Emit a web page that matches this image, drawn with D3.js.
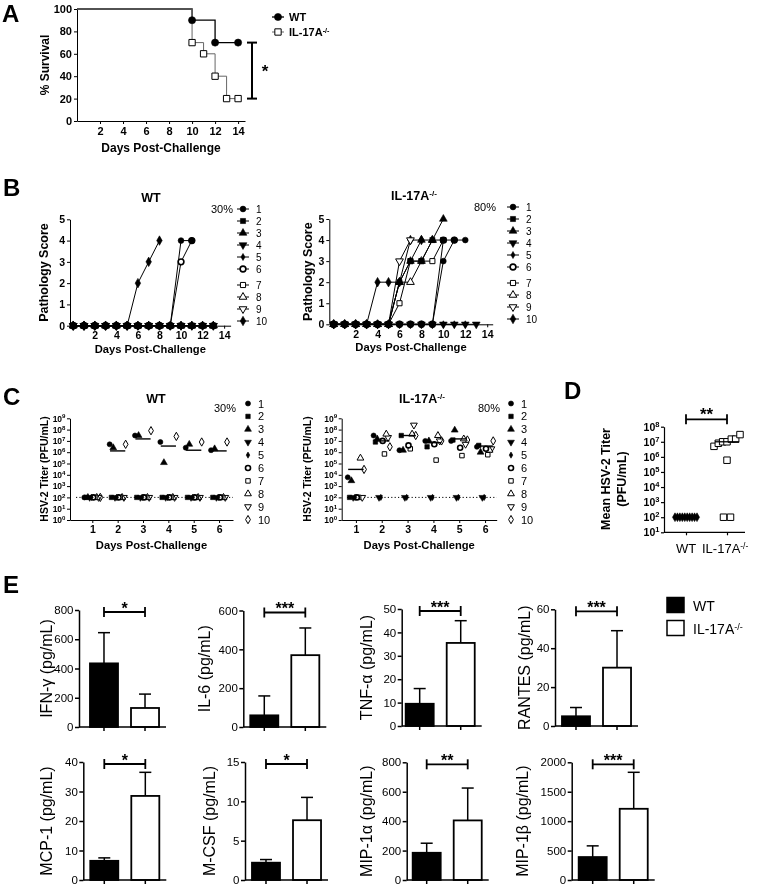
<!DOCTYPE html>
<html><head><meta charset="utf-8">
<script src="https://cdn.jsdelivr.net/npm/d3@7/dist/d3.min.js"></script>
<style>html,body{margin:0;padding:0;background:#fff;} svg{filter:grayscale(100%);}</style>
</head><body>
<script>
// ================= DATA =================
// A: survival (Kaplan-Meier steps)
const survivalDaysWT = [0, 10, 12, 14];
const survivalWT     = [100, 90, 70, 70];
const survivalDaysKO = [0, 10, 11, 12, 13, 14];
const survivalKO     = [100, 70, 60, 40, 20, 20];
const survivalXTicks = [2, 4, 6, 8, 10, 12, 14];
const survivalYTicks = [0, 20, 40, 60, 80, 100];
const groupNames = ["WT", "IL-17A"];

// B: pathology score per mouse (array index = day post-challenge)
const pathologyWT = [
  [0,0,0,0,0,0,0,0,0,0,4,4],
  [0,0,0,0,0,0,0,0,0,0,0,0,0,0],
  [0,0,0,0,0,0,0,0,0,0,0,0,0,0],
  [0,0,0,0,0,0,0,0,0,0,0,0,0,0],
  [0,0,0,0,0,0,0,0,0,0,0,0,0,0],
  [0,0,0,0,0,0,0,0,0,0,3,4],
  [0,0,0,0,0,0,0,0,0,0,0,0,0,0],
  [0,0,0,0,0,0,0,0,0,0,0,0,0,0],
  [0,0,0,0,0,0,0,0,0,0,0,0,0,0],
  [0,0,0,0,0,0,2,3,4]
];
const pathologyKO = [
  [0,0,0,0,0,0,0,0,0,0,3,4,4],
  [0,0,0,0,0,0,2,3,3,4,4],
  [0,0,0,0,0,0,2,3,4,4,5],
  [0,0,0,0,0,0,0,0,0,0,0,0,0,0],
  [0,0,0,0,0,0,0,0,0,0,0,0,0],
  [0,0,0,0,0,0,0,0,0,0,4,4],
  [0,0,0,0,0,0,1,3,3,3,4],
  [0,0,0,0,0,0,2,2,3,4],
  [0,0,0,0,0,0,3,4],
  [0,0,0,0,2,2,2,4,4]
];
const pathologyXTicks = [2, 4, 6, 8, 10, 12, 14];
const pathologyYTicks = [0, 1, 2, 3, 4, 5];
const mouseLabels = ["1","2","3","4","5","6","7","8","9","10"];
const pctWT = "30%";
const pctKO = "80%";

// C: HSV-2 titer per mouse, days 1..6
const titerDays = [1, 2, 3, 4, 5, 6];
const titerWT = [
  [1e2, 5e6, 3e7, 8e6, 2.5e6, 1.5e6],
  [1e2, 1e2, 1e2, 1e2, 1e2, 1e2],
  [1e2, 2.5e6, 3e7, 1.2e5, 5e6, 2e6],
  [1e2, 1e2, 1e2, 1e2, 1e2, 1e2],
  [1e2, 1e2, 1e2, 1e2, 1e2, 1e2],
  [1e2, 1e2, 1e2, 1e2, 1e2, 1e2],
  [1e2, 1e2, 1e2, 1e2, 1e2, 1e2],
  [1e2, 1e2, 1e2, 1e2, 1e2, 1e2],
  [1e2, 1e2, 1e2, 1e2, 1e2, 1e2],
  [1e2, 5e6, 8e7, 2.5e7, 8e6, 8e6]
];
const titerKO = [
  [6e3, 3e7, 1.5e6, 1e7, 1e7, 3e6],
  [1e2, 8e6, 3e7, 3e6, 1.2e7, 4e6],
  [3e3, 1.5e7, 1.5e6, 1e7, 9e7, 1e6],
  [1e2, 1e2, 1e2, 1e2, 1e2, 1e2],
  [1e2, 1e2, 1e2, 1e2, 1e2, 1e2],
  [1e2, 1e7, 4e6, 5e6, 2.5e6, 2e6],
  [1e2, 7e5, 2e6, 2e5, 5e5, 6e5],
  [3e5, 4e7, 4e7, 3e7, 1.5e7, 1.5e6],
  [1e2, 2e7, 2.5e8, 1e7, 5e6, 2e6],
  [3e4, 3e6, 3e7, 1e7, 1.2e7, 1e7]
];
const titerMeanWT = [null, 1.3e6, 1.5e7, 3.5e6, 1.5e6, 1.3e6];
const titerMeanKO = [3e4, 1e7, 3e7, 7e6, 1.5e7, 3.5e6];
const titerLimit = 1e2;
const titerTicks = [1e0,1e1,1e2,1e3,1e4,1e5,1e6,1e7,1e8,1e9];

// D: mean titer per mouse
const meanTiterWT = [1e2,1e2,1e2,1e2,1e2,1e2,1e2,1e2,1e2,1e2];
const meanTiterKO = [1e2, 1e2, 6e5, 5e6, 8e6, 1e7, 1e7, 1.5e7, 1.5e7, 3e7];
const meanTiterCenterWT = 1e2;
const meanTiterCenterKO = 1e7;
const meanTiterTicks = [1e1,1e2,1e3,1e4,1e5,1e6,1e7,1e8];

// E: cytokines (mean, SEM)
const cytokines  = ["IFN-γ","IL-6","TNF-α","RANTES","MCP-1","M-CSF","MIP-1α","MIP-1β"];
const cytoWT     = [435, 60, 9.5, 5, 6.5, 2.2, 185, 390];
const cytoWTerr  = [210, 100, 6.5, 4.5, 1, 0.4, 65, 190];
const cytoKO     = [130, 370, 35.5, 30, 28.5, 7.6, 405, 1210];
const cytoKOerr  = [95, 140, 9.5, 19, 8, 2.9, 220, 620];
const cytoMax    = [800, 600, 50, 60, 40, 15, 800, 2000];
const cytoStep   = [200, 200, 10, 20, 10, 5, 200, 500];
const cytoStars  = ["*","***","***","***","*","*","**","***"];

// ================= DRAWING =================
const FONT = '"Liberation Sans", Arial, Helvetica, sans-serif';
const fmtInt = d3.format("d");
const svg = d3.select("body").append("svg").attr("width",760).attr("height",889)
  .style("font-family",FONT).style("background","#fff");

function txt(parent, x, y, s, o={}) {
  const t = parent.append("text").attr("x",x).attr("y",y)
    .attr("font-size",o.size||11).attr("font-weight",o.weight||"normal")
    .attr("text-anchor",o.anchor||"start").attr("fill","#000").attr("font-family",FONT);
  if (s !== null) t.text(s);
  return t;
}
function rtxt(parent, x, y, s, o={}) {
  return parent.append("text").attr("transform",`translate(${x},${y}) rotate(-90)`)
    .attr("dy","0.35em").attr("font-size",o.size||11).attr("font-weight",o.weight||"normal")
    .attr("text-anchor","middle").attr("fill","#000").attr("font-family",FONT).text(s);
}
function koText(t, name) {
  t.append("tspan").text(name);
  t.append("tspan").attr("dy","-0.45em").attr("font-size","0.65em").text("-/-");
}
function styleAxis(g, fs, bold, sw) {
  g.attr("font-family",FONT).attr("font-size",fs);
  g.selectAll("path.domain").attr("stroke","#000").attr("stroke-width",sw);
  g.selectAll(".tick line").attr("stroke","#000").attr("stroke-width",sw);
  g.selectAll(".tick text").attr("fill","#000").attr("font-weight",bold?"bold":"normal");
}
function powLabels(g) {
  g.selectAll(".tick text").each(function(d){
    const t = d3.select(this); t.text(null);
    t.append("tspan").text("10");
    t.append("tspan").attr("dy","-0.5em").attr("font-size","0.72em").text(Math.round(Math.log10(d)));
  });
}
const markerDefs = [
  {type:d3.symbolCircle, filled:true},
  {type:d3.symbolSquare, filled:true},
  {type:d3.symbolTriangle, filled:true},
  {type:d3.symbolTriangle, filled:true, flip:true},
  {type:d3.symbolDiamond, filled:true, scale:0.55},
  {type:d3.symbolCircle, filled:false, thick:true},
  {type:d3.symbolSquare, filled:false},
  {type:d3.symbolTriangle, filled:false},
  {type:d3.symbolTriangle, filled:false, flip:true},
  {type:d3.symbolDiamond, filled:null}
];
function marker(g, idx, x, y, size, tenFilled) {
  const d = markerDefs[idx];
  const filled = d.filled === null ? tenFilled : d.filled;
  g.append("path").attr("d", d3.symbol(d.type, size*(d.scale||1))())
    .attr("transform",`translate(${x},${y})${d.flip?" rotate(180)":""}`)
    .attr("fill", filled ? "#000" : "#fff").attr("stroke","#000")
    .attr("stroke-width", filled ? 0.6 : (d.thick ? 1.6 : 1));
}
function panelLetter(x, y, s) { txt(svg, x, y, s, {size:24, weight:"bold"}); }

// ---------- Panel A ----------
(function(){
  const g = svg.append("g");
  const x = d3.scaleLinear([0,14.6],[77,245]);
  const y = d3.scaleLinear([0,100],[121,9]);
  const gx = g.append("g").attr("transform","translate(0,121)")
    .call(d3.axisBottom(x).tickValues(survivalXTicks).tickFormat(fmtInt).tickSize(3).tickPadding(3).tickSizeOuter(0));
  styleAxis(gx, 11, true, 1);
  const gy = g.append("g").attr("transform","translate(77,0)")
    .call(d3.axisLeft(y).tickValues(survivalYTicks).tickFormat(fmtInt).tickSize(3).tickPadding(2).tickSizeOuter(0));
  styleAxis(gy, 11, true, 1);
  const line = d3.line().curve(d3.curveStepAfter).x(d=>x(d[0])).y(d=>y(d[1]));
  const wt = survivalDaysWT.map((d,i)=>[d, survivalWT[i]]);
  const ko = survivalDaysKO.map((d,i)=>[d, survivalKO[i]]);
  g.append("path").datum(wt).attr("d",line).attr("fill","none").attr("stroke","#000").attr("stroke-width",1.3);
  g.append("path").datum(ko).attr("d",line).attr("fill","none").attr("stroke","#666").attr("stroke-width",1);
  wt.slice(1).forEach(p=>marker(g,0,x(p[0]),y(p[1]),40));
  ko.slice(1).forEach(p=>marker(g,6,x(p[0]),y(p[1]),40));
  g.append("line").attr("x1",252).attr("x2",252).attr("y1",y(70)).attr("y2",y(20)).attr("stroke","#000").attr("stroke-width",2);
  [70,20].forEach(v=>g.append("line").attr("x1",247).attr("x2",257).attr("y1",y(v)).attr("y2",y(v)).attr("stroke","#000").attr("stroke-width",2));
  txt(g, 265, 77, "*", {size:17, weight:"bold", anchor:"middle"});
  rtxt(g, 45, 65, "% Survival", {size:12, weight:"bold"});
  txt(g, 161, 152, "Days Post-Challenge", {size:12, weight:"bold", anchor:"middle"});
  g.append("line").attr("x1",272).attr("x2",284).attr("y1",17).attr("y2",17).attr("stroke","#000").attr("stroke-width",1.3);
  marker(g,0,278,17,40);
  txt(g, 289, 21, groupNames[0], {size:11, weight:"bold"});
  g.append("line").attr("x1",272).attr("x2",284).attr("y1",32).attr("y2",32).attr("stroke","#666").attr("stroke-width",1);
  marker(g,6,278,32,40);
  koText(txt(g, 289, 36, null, {size:11, weight:"bold"}), groupNames[1]);
  panelLetter(2, 22, "A");
})();

// ---------- Panel B ----------
function pathologyPanel(data, o) {
  const g = svg.append("g");
  const x = d3.scaleLinear(o.xd,[o.x0,o.x1]);
  const y = d3.scaleLinear([0,5],[o.y0,o.y1]);
  const gx = g.append("g").attr("transform",`translate(0,${o.y0})`)
    .call(d3.axisBottom(x).tickValues(pathologyXTicks).tickFormat(fmtInt).tickSize(3).tickPadding(3).tickSizeOuter(0));
  styleAxis(gx, 10.5, true, 1);
  const gy = g.append("g").attr("transform",`translate(${o.x0},0)`)
    .call(d3.axisLeft(y).tickValues(pathologyYTicks).tickFormat(fmtInt).tickSize(3).tickPadding(2).tickSizeOuter(0));
  styleAxis(gy, 10.5, true, 1);
  const line = d3.line().x(d=>x(d[0])).y(d=>y(d[1]));
  for (let i=data.length-1;i>=0;i--) {
    const pts = data[i].map((v,d)=>[d,v]);
    g.append("path").datum(pts).attr("d",line).attr("fill","none").attr("stroke","#000").attr("stroke-width",1);
    pts.forEach(p=>marker(g,i,x(p[0]),y(p[1]),26,true));
  }
  rtxt(g, o.ylx, (o.y0+o.y1)/2, "Pathology Score", {size:12.5, weight:"bold"});
  txt(g, (o.x0+o.x1)/2, o.y0+27, "Days Post-Challenge", {size:11.2, weight:"bold", anchor:"middle"});
  const title = txt(g, o.tx, o.ty, null, {size:12.5, weight:"bold", anchor:"middle"});
  if (o.ko) koText(title, groupNames[1]); else title.text(groupNames[0]);
  txt(g, o.px, o.ty+11, o.pct, {size:11});
  mouseLabels.forEach((lab,i)=>{
    const ly = o.ly0 + i*12 + (i>=6 ? 4 : 0);
    g.append("line").attr("x1",o.lx-6).attr("x2",o.lx+6).attr("y1",ly).attr("y2",ly).attr("stroke","#000").attr("stroke-width",1);
    marker(g,i,o.lx,ly,26,true);
    txt(g, o.lx+13, ly+3.5, lab, {size:10});
  });
}
pathologyPanel(pathologyWT, {xd:[-0.3,14.6], x0:70, x1:230.6, y0:325.7, y1:219.3, ylx:44,
  tx:151, ty:202, px:211, pct:pctWT, lx:243, ly0:209, ko:false});
pathologyPanel(pathologyKO, {xd:[-0.4,14.5], x0:329.3, x1:492.7, y0:324.3, y1:219, ylx:307.5,
  tx:414, ty:200, px:474, pct:pctKO, lx:513, ly0:207, ko:true});
panelLetter(3, 196, "B");

// ---------- Panel C ----------
function titerPanel(data, means, o) {
  const g = svg.append("g");
  const x = d3.scaleLinear(o.xd,[o.x0,o.x1]);
  const y = d3.scaleLog([1,1e9],[520,418.3]);
  const gx = g.append("g").attr("transform","translate(0,520)")
    .call(d3.axisBottom(x).tickValues(titerDays).tickFormat(fmtInt).tickSize(3).tickPadding(3).tickSizeOuter(0));
  styleAxis(gx, 10.5, true, 1);
  const gy = g.append("g").attr("transform",`translate(${o.x0},0)`)
    .call(d3.axisLeft(y).tickValues(titerTicks).tickSize(3).tickPadding(1.5).tickSizeOuter(0));
  styleAxis(gy, 8.5, true, 1);
  powLabels(gy);
  g.append("line").attr("x1",o.dx0).attr("x2",o.x1).attr("y1",y(titerLimit)).attr("y2",y(titerLimit))
    .attr("stroke","#000").attr("stroke-width",1).attr("stroke-dasharray","1.2,2.2");
  for (let i=data.length-1;i>=0;i--) {
    data[i].forEach((v,di)=>{
      const dx = titerDays[di] + (i-4.5)*0.07;
      marker(g,i,x(dx),y(v),20,false);
    });
  }
  means.forEach((m,di)=>{
    if (m===null) return;
    g.append("line").attr("x1",x(titerDays[di]-0.3)).attr("x2",x(titerDays[di]+0.3))
      .attr("y1",y(m)).attr("y2",y(m)).attr("stroke","#000").attr("stroke-width",1.4);
  });
  rtxt(g, o.ylx, 469, "HSV-2 Titer (PFU/mL)", {size:10.5, weight:"bold"});
  txt(g, (o.x0+o.x1)/2, 549, "Days Post-Challenge", {size:11.2, weight:"bold", anchor:"middle"});
  const title = txt(g, o.tx, 403, null, {size:12.5, weight:"bold", anchor:"middle"});
  if (o.ko) koText(title, groupNames[1]); else title.text(groupNames[0]);
  txt(g, o.px, 412, o.pct, {size:11});
  mouseLabels.forEach((lab,i)=>{
    const ly = 403.5 + i*12.9;
    marker(g,i,o.lx,ly,20,false);
    txt(g, o.lx+10, ly+4, lab, {size:11});
  });
}
titerPanel(titerWT, titerMeanWT, {xd:[0.12,6.55], x0:70, x1:233, dx0:76, ylx:44, tx:156, px:214, pct:pctWT, lx:248, ko:false});
titerPanel(titerKO, titerMeanKO, {xd:[0.45,6.45], x0:341.7, x1:496.7, dx0:347, ylx:307.5, tx:422, px:478, pct:pctKO, lx:511, ko:true});
panelLetter(3, 405, "C");

// ---------- Panel D ----------
(function(){
  const g = svg.append("g");
  const x = d3.scalePoint(groupNames,[686,727]);
  const y = d3.scaleLog([10,1e8],[532.3,426.7]);
  const gx = g.append("g").attr("transform","translate(0,532.3)")
    .call(d3.axisBottom(x).tickSize(3).tickSizeOuter(0).tickFormat(""));
  gx.select("path.domain").remove();
  styleAxis(gx, 13, false, 1.2);
  g.append("line").attr("x1",664).attr("x2",745).attr("y1",532.3).attr("y2",532.3).attr("stroke","#000").attr("stroke-width",1.2);
  const gy = g.append("g").attr("transform","translate(664,0)")
    .call(d3.axisLeft(y).tickValues(meanTiterTicks).tickSize(3).tickPadding(1.5).tickSizeOuter(0));
  styleAxis(gy, 10.5, true, 1.2);
  powLabels(gy);
  txt(g, 686, 553, groupNames[0], {size:13, anchor:"middle"});
  koText(txt(g, 702, 553, null, {size:13}), groupNames[1]);
  function swarm(vals, cx, idx, size, spread) {
    const groups = d3.group(vals.map((v,i)=>({v,i})), d=>Math.round(Math.log10(d.v)));
    groups.forEach(arr=>{
      const n = arr.length, sp = n>1 ? Math.min(7, spread/(n-1)) : 0;
      arr.forEach((d,k)=>marker(g, idx, cx + (k-(n-1)/2)*sp, y(d.v), size, false));
    });
  }
  swarm(meanTiterWT, x("WT"), 4, 40, 22);
  swarm(meanTiterKO, x("IL-17A"), 6, 42, 26);
  [[meanTiterCenterWT,"WT"],[meanTiterCenterKO,"IL-17A"]].forEach(([m,k])=>
    g.append("line").attr("x1",x(k)-12).attr("x2",x(k)+12).attr("y1",y(m)).attr("y2",y(m)).attr("stroke","#000").attr("stroke-width",1.3));
  const by = 419.3;
  g.append("line").attr("x1",x("WT")).attr("x2",x("IL-17A")).attr("y1",by).attr("y2",by).attr("stroke","#000").attr("stroke-width",1.8);
  [x("WT"),x("IL-17A")].forEach(cx=>g.append("line").attr("x1",cx).attr("x2",cx).attr("y1",by-5).attr("y2",by+5).attr("stroke","#000").attr("stroke-width",1.8));
  txt(g, (x("WT")+x("IL-17A"))/2, by+1, "**", {size:17, weight:"bold", anchor:"middle"});
  rtxt(g, 606, 479, "Mean HSV-2 Titer", {size:12.5, weight:"bold"});
  rtxt(g, 621.7, 479, "(PFU/mL)", {size:12.5, weight:"bold"});
  panelLetter(564, 399, "D");
})();

// ---------- Panel E ----------
const eLayout = [
  {ax:79, top:610, bot:727, lx:46, off:4},
  {ax:243.3, top:610.5, bot:727, lx:204, off:0},
  {ax:401.7, top:609, bot:726, lx:366, off:-3},
  {ax:555, top:609.3, bot:726, lx:524, off:0},
  {ax:83.3, top:762, bot:880, lx:46, off:0},
  {ax:245, top:762, bot:880, lx:209, off:0},
  {ax:406.7, top:762.3, bot:880, lx:366, off:-1},
  {ax:571.7, top:762.3, bot:880, lx:522.5, off:0}
];
cytokines.forEach((name,i)=>{
  const L = eLayout[i];
  const g = svg.append("g");
  const y = d3.scaleLinear([0,cytoMax[i]],[L.bot,L.top]);
  const x = d3.scaleBand(groupNames,[L.ax+L.off, L.ax+L.off+83]).paddingInner(0.317).paddingOuter(0.17);
  const means = [cytoWT[i], cytoKO[i]], errs = [cytoWTerr[i], cytoKOerr[i]];
  groupNames.forEach((k,j)=>{
    const cx = x(k) + x.bandwidth()/2;
    g.append("line").attr("x1",cx).attr("x2",cx).attr("y1",y(means[j])).attr("y2",y(means[j]+errs[j])).attr("stroke","#000").attr("stroke-width",1.5);
    g.append("line").attr("x1",cx-6).attr("x2",cx+6).attr("y1",y(means[j]+errs[j])).attr("y2",y(means[j]+errs[j])).attr("stroke","#000").attr("stroke-width",1.5);
    g.append("rect").attr("x",x(k)).attr("width",x.bandwidth()).attr("y",y(means[j])).attr("height",L.bot-y(means[j]))
      .attr("fill", j===0 ? "#000" : "#fff").attr("stroke","#000").attr("stroke-width",1.8);
  });
  const gx = g.append("g").attr("transform",`translate(0,${L.bot})`)
    .call(d3.axisBottom(x).tickSize(4).tickSizeOuter(0).tickFormat(""));
  gx.select("path.domain").remove();
  styleAxis(gx, 11, false, 1.5);
  g.append("line").attr("x1",L.ax).attr("x2",L.ax+L.off+83).attr("y1",L.bot).attr("y2",L.bot).attr("stroke","#000").attr("stroke-width",1.5);
  const gy = g.append("g").attr("transform",`translate(${L.ax},0)`)
    .call(d3.axisLeft(y).tickValues(d3.range(0,cytoMax[i]+cytoStep[i]/2,cytoStep[i])).tickFormat(fmtInt).tickSize(4).tickPadding(1.5).tickSizeOuter(0));
  styleAxis(gy, 11.5, false, 1.5);
  const by = L.top + 2;
  const c0 = x("WT")+x.bandwidth()/2, c1 = x("IL-17A")+x.bandwidth()/2;
  g.append("line").attr("x1",c0).attr("x2",c1).attr("y1",by).attr("y2",by).attr("stroke","#000").attr("stroke-width",1.8);
  [c0,c1].forEach(cx=>g.append("line").attr("x1",cx).attr("x2",cx).attr("y1",by-5).attr("y2",by+5).attr("stroke","#000").attr("stroke-width",1.8));
  txt(g, (c0+c1)/2, by+1.5, cytoStars[i], {size:16, weight:"bold", anchor:"middle"});
  rtxt(g, L.lx, (L.top+L.bot)/2, name + " (pg/mL)", {size:16});
});
(function(){
  const g = svg.append("g");
  g.append("rect").attr("x",667).attr("y",597.5).attr("width",17).attr("height",15).attr("fill","#000").attr("stroke","#000").attr("stroke-width",1.5);
  g.append("rect").attr("x",667).attr("y",620.5).attr("width",17).attr("height",15).attr("fill","#fff").attr("stroke","#000").attr("stroke-width",1.5);
  txt(g, 693, 611, groupNames[0], {size:14});
  koText(txt(g, 693, 634, null, {size:14}), groupNames[1]);
})();
panelLetter(3, 593, "E");
</script>
</body></html>
